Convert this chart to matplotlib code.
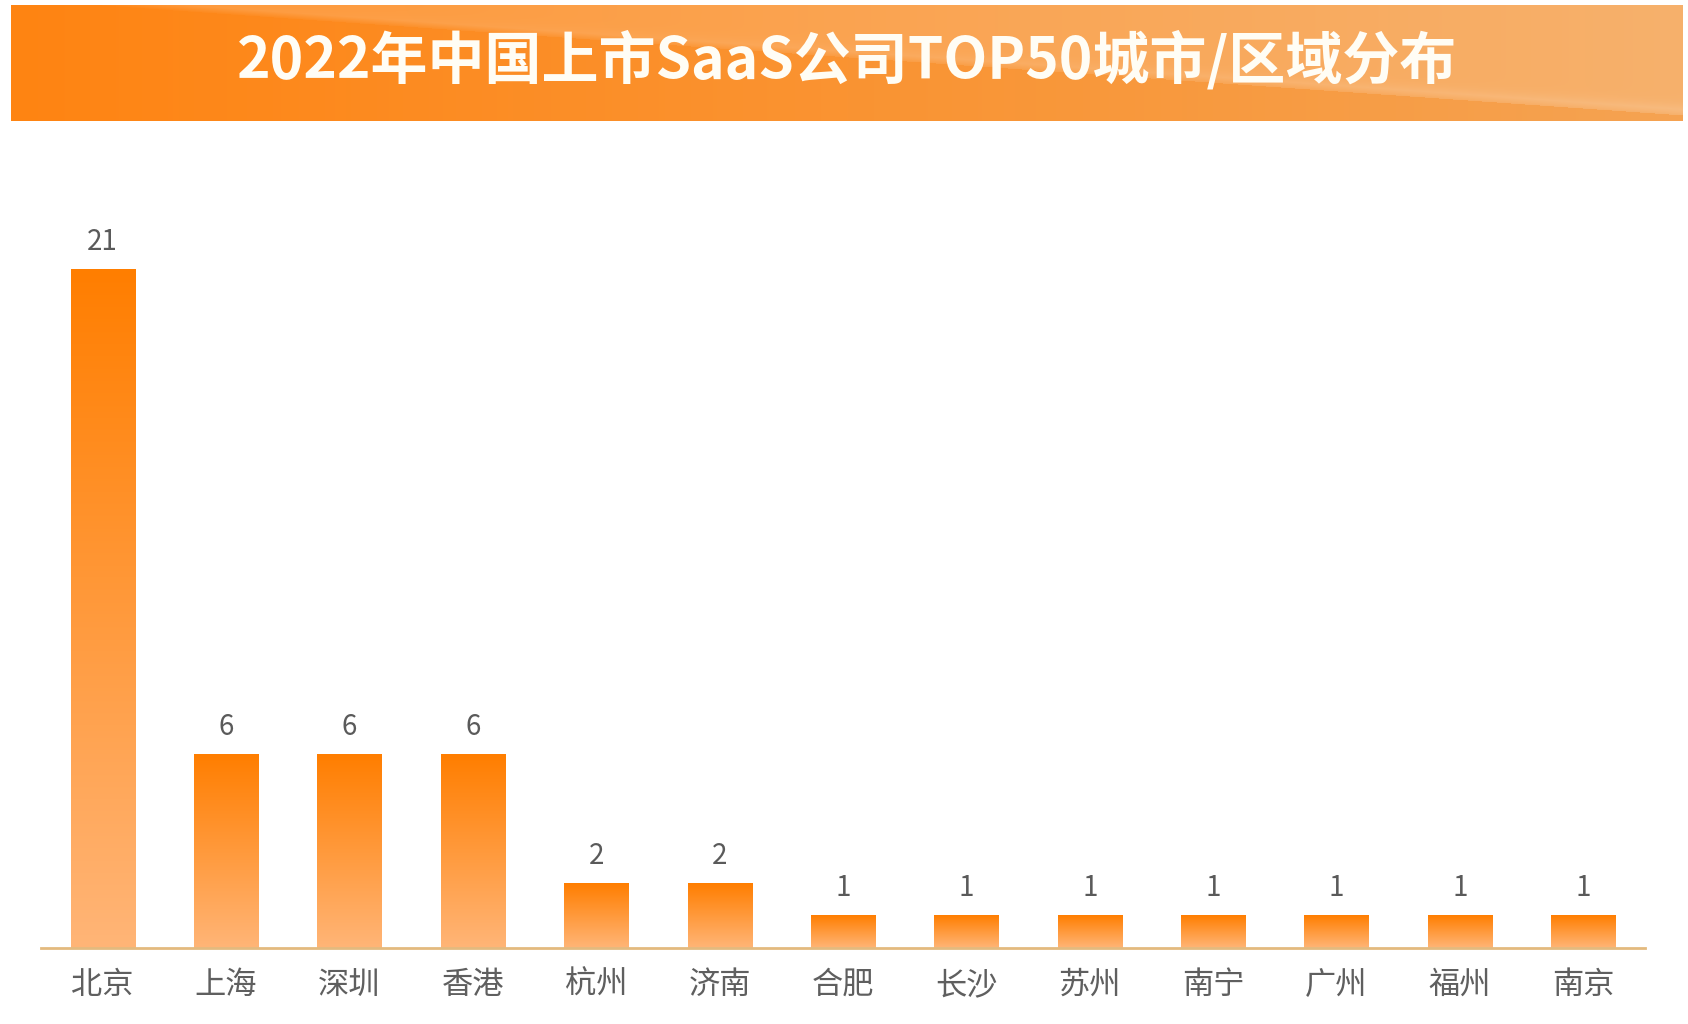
import numpy as np
import matplotlib
matplotlib.use("Agg")
import matplotlib.pyplot as plt
from matplotlib.colors import LinearSegmentedColormap

plt.rcParams['font.family'] = ['Noto Sans CJK SC', 'DejaVu Sans']

title = "2022年中国上市SaaS公司TOP50城市/区域分布"
cities = ["北京", "上海", "深圳", "香港", "杭州", "济南", "合肥", "长沙", "苏州", "南宁", "广州", "福州", "南京"]
counts = [21, 6, 6, 6, 2, 2, 1, 1, 1, 1, 1, 1, 1]

W, H = 1688, 1024
fig = plt.figure(figsize=(W / 100, H / 100), dpi=100)
fig.patch.set_facecolor("white")

# ---- banner ----
bx0, bx1, by0, by1 = 11, 1683, 5, 121
bw, bh = bx1 - bx0, by1 - by0
bax = fig.add_axes([bx0 / W, 1 - by1 / H, bw / W, bh / H])
px, py = np.meshgrid(np.arange(bw), np.arange(bh))
t = (px / bw)[..., None]
left = np.array([255, 132, 18]) / 255
right = np.array([245, 163, 82]) / 255
img = left * (1 - t) + right * t
yline = (px - 90) / (bw - 90) * (bh - 6)
above = (py < yline)
soft = np.clip((yline - py) / 6.0, 0, 1) * above
band = np.exp(-((yline - py) / 10.0) ** 2) * above * np.clip(px / bw, 0, 1)
light = (0.10 * soft + 0.10 * band)[..., None]
img = np.clip(img + light * (1 - img) * 1.5, 0, 1)
bax.imshow(img, aspect="auto", extent=[0, 1, 0, 1], origin="upper")
bax.set_axis_off()
bax.text(0.5, 0.52, title, ha="center", va="center", color="#FFFDF5",
         fontsize=41, fontweight="bold", transform=bax.transAxes)

# ---- bar chart ----
ax_l, ax_r = 41, 1645
ax_b, ax_t = 948, 200
ax = fig.add_axes([ax_l / W, 1 - ax_b / H, (ax_r - ax_l) / W, (ax_b - ax_t) / H])
x = np.arange(len(cities))
bars = ax.bar(x, counts, width=0.52, color="none", edgecolor="none")

cmap = LinearSegmentedColormap.from_list("og", ["#FFB577", "#FF7E00"])
grad = np.linspace(0, 1, 256).reshape(-1, 1)
for b in bars:
    x0, w, h = b.get_x(), b.get_width(), b.get_height()
    ax.imshow(grad, cmap=cmap, aspect="auto", origin="lower",
              extent=[x0, x0 + w, 0, h], zorder=2)
ax.set_xlim(-0.5, len(cities) - 0.5)
ax.set_ylim(0, 23.16)

for xi, v in zip(x, counts):
    ax.annotate(str(v), (xi, v), xytext=(0, 9), textcoords="offset points",
                ha="center", va="bottom", fontsize=20, color="#5a5a5a")

for s in ["top", "right", "left"]:
    ax.spines[s].set_visible(False)
ax.spines["bottom"].set_color("#E3BA7E")
ax.spines["bottom"].set_linewidth(2)
ax.set_yticks([])
ax.set_xticks(x)
ax.set_xticklabels(cities, fontsize=22.5, color="#5f5f5f")
ax.tick_params(axis="x", length=0, pad=15)
ax.set_facecolor("none")

fig.savefig("out.png", dpi=100)
